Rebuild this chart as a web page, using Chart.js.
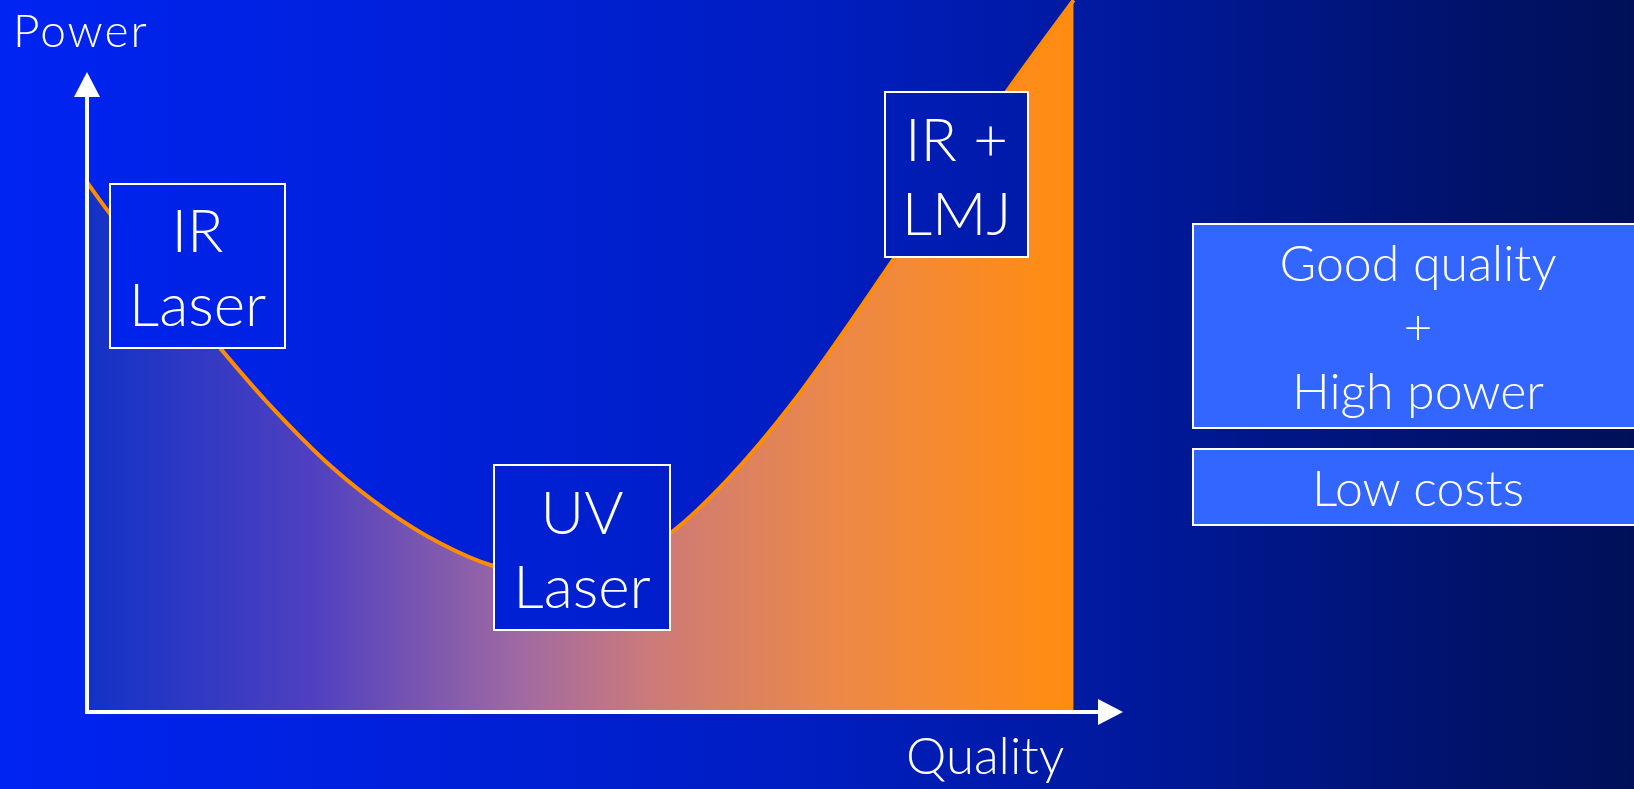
<!DOCTYPE html>
<html>
<head>
<meta charset="utf-8">
<script src="https://cdn.jsdelivr.net/npm/chart.js@4.4.1/dist/chart.umd.min.js"></script>
<style>
html,body{margin:0;padding:0;width:1634px;height:789px;overflow:hidden}
body{
  --bg:linear-gradient(90deg,#0024f2 0%,#0020d6 30%,#001ec0 50%,#00199a 70%,#00126a 90%,#001058 100%);
  background:var(--bg);
  font-family:Lato,"Open Sans",sans-serif;font-weight:300;color:#fff;position:relative;
}
#wrap{position:absolute;left:0;top:0;width:1634px;height:789px}
.lbl{position:absolute;box-sizing:border-box;border:2px solid #fff;background:var(--bg) fixed;
  display:flex;flex-direction:column;justify-content:center;align-items:center;text-align:center;
  font-size:60px;line-height:74px}
.side{position:absolute;box-sizing:border-box;border:2px solid #fff;background:#3366ff;
  display:flex;flex-direction:column;justify-content:center;align-items:center;text-align:center;
  font-size:50px;line-height:64px}
.axt{position:absolute;white-space:nowrap}
</style>
</head>
<body>
<div id="wrap"><canvas id="c" width="1634" height="789"></canvas></div>

<div class="axt" style="left:13px;top:2px;font-size:46px;letter-spacing:2px">Power</div>
<div class="axt" style="left:906px;top:724px;font-size:51px">Quality</div>

<div class="lbl" style="left:109px;top:183px;width:177px;height:166px"><div>IR</div><div>Laser</div></div>
<div class="lbl" style="left:493px;top:464px;width:178px;height:167px"><div>UV</div><div>Laser</div></div>
<div class="lbl" style="left:884px;top:91px;width:145px;height:167px"><div>IR +</div><div>LMJ</div></div>

<div class="side" style="left:1192px;top:223px;width:452px;height:206px"><div>Good quality</div><div>+</div><div>High power</div></div>
<div class="side" style="left:1192px;top:448px;width:452px;height:78px"><div>Low costs</div></div>

<script>
// courbe qualité / puissance
const qualityX=[0,2.1,13.5,18.2,24.9,30.3,35.8,41.2,46.9,53.0,59.1,64.9,71.6,81.7,93.0,100];
const powerY  =[74.4,70.4,51.1,43.6,34.3,28.4,23.7,20.5,19.2,20.5,25.1,32.6,43.6,63.5,86.7,100];
const xMax=105, yMax=100;
const fillStops=[[0,'#1232c6'],[0.23,'#5040c0'],[0.44,'#a06aa2'],[0.57,'#cc7a7a'],[0.76,'#ec8848'],[0.97,'#ff8c16'],[1,'#ff8c10']];

function areaFill(ctx){
  const c=ctx.chart;
  if(!c.chartArea)return '#8060a0';
  const xs=c.scales.x;
  const g=c.ctx.createLinearGradient(xs.getPixelForValue(0),0,xs.getPixelForValue(100),0);
  fillStops.forEach(s=>g.addColorStop(s[0],s[1]));
  return g;
}

const arrows={
  id:'arrows',
  afterDraw(chart){
    const {ctx,scales:{x,y}}=chart;
    const x0=x.getPixelForValue(0),y0=y.getPixelForValue(0);
    const yTip=y.getPixelForValue(89.9),xTip=x.getPixelForValue(xMax);
    ctx.save();
    ctx.strokeStyle='#fff';ctx.fillStyle='#fff';ctx.lineWidth=4;
    ctx.beginPath();ctx.moveTo(x0,y0+2);ctx.lineTo(x0,yTip+24);ctx.stroke();
    ctx.beginPath();ctx.moveTo(x0-2,y0);ctx.lineTo(xTip-24,y0);ctx.stroke();
    ctx.beginPath();ctx.moveTo(x0,yTip);ctx.lineTo(x0-13,yTip+25);ctx.lineTo(x0+13,yTip+25);ctx.closePath();ctx.fill();
    ctx.beginPath();ctx.moveTo(xTip,y0);ctx.lineTo(xTip-25,y0-13);ctx.lineTo(xTip-25,y0+13);ctx.closePath();ctx.fill();
    ctx.restore();
  }
};

new Chart(document.getElementById('c').getContext('2d'),{
  type:'line',
  data:{datasets:[{
    data:qualityX.map((q,i)=>({x:q,y:powerY[i]})),
    borderColor:'#ff8c00',borderWidth:4,pointRadius:0,cubicInterpolationMode:'monotone',
    fill:'origin',backgroundColor:areaFill,clip:false
  }]},
  options:{
    responsive:false,animation:false,
    layout:{padding:{left:87,right:511,top:0,bottom:77}},
    plugins:{legend:{display:false},tooltip:{enabled:false}},
    scales:{
      x:{type:'linear',min:0,max:xMax,display:false},
      y:{min:0,max:yMax,display:false}
    }
  },
  plugins:[arrows]
});
</script>
</body>
</html>
